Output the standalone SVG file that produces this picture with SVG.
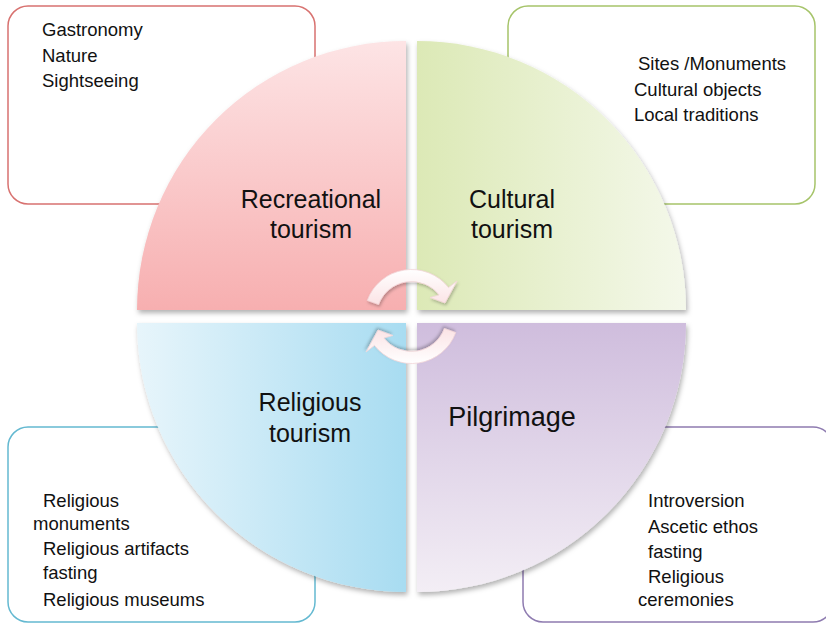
<svg xmlns="http://www.w3.org/2000/svg" width="826" height="624" viewBox="0 0 826 624">
<style>
.box{fill:#fff;stroke-width:1.5}
.t{font-family:"Liberation Sans",Arial,sans-serif;font-size:18.5px;fill:#111}
.lbl{font-family:"Liberation Sans",Arial,sans-serif;font-size:25px;fill:#111;text-anchor:middle}
.q{filter:url(#sh)}
.arr{fill:url(#ga);stroke:#f3d6d8;stroke-width:0.8;filter:url(#sh2)}
</style>
<defs>
<linearGradient id="gtl" x1="0" y1="0" x2="0" y2="1"><stop offset="0" stop-color="#fde4e5"/><stop offset="1" stop-color="#f7afb0"/></linearGradient>
<linearGradient id="gtr" x1="0" y1="0" x2="1" y2="0"><stop offset="0" stop-color="#dce9b6"/><stop offset="1" stop-color="#f4f8ea"/></linearGradient>
<linearGradient id="gbl" x1="0" y1="0" x2="1" y2="0"><stop offset="0" stop-color="#e7f5fb"/><stop offset="1" stop-color="#a8dcf1"/></linearGradient>
<linearGradient id="gbr" x1="0" y1="0" x2="0" y2="1"><stop offset="0" stop-color="#cfbddd"/><stop offset="1" stop-color="#f3eef5"/></linearGradient>
<linearGradient id="ga" x1="0" y1="0" x2="0" y2="1"><stop offset="0" stop-color="#ffffff"/><stop offset="1" stop-color="#fbe3e5"/></linearGradient>
<filter id="sh" x="-10%" y="-10%" width="120%" height="120%"><feDropShadow dx="1.5" dy="3" stdDeviation="2.5" flood-color="#000" flood-opacity="0.3"/></filter>
<filter id="sh2" x="-20%" y="-20%" width="140%" height="140%"><feDropShadow dx="1" dy="2" stdDeviation="1.5" flood-color="#000" flood-opacity="0.25"/></filter>
</defs>
<g id="box-recreational">
<rect class="box" x="8" y="6" width="307" height="198" rx="20" stroke="#d87270"/>
<text class="t" x="42" y="36">Gastronomy</text>
<text class="t" x="42" y="61.5">Nature</text>
<text class="t" x="42" y="87">Sightseeing</text>
</g>
<g id="box-cultural">
<rect class="box" x="508" y="6" width="307" height="198" rx="20" stroke="#a6c46a"/>
<text class="t" x="638" y="70">Sites /Monuments</text>
<text class="t" x="634" y="95.5">Cultural objects</text>
<text class="t" x="634" y="121">Local traditions</text>
</g>
<g id="box-religious">
<rect class="box" x="8" y="427" width="307" height="195" rx="20" stroke="#64b9d1"/>
<text class="t" x="43" y="507">Religious</text>
<text class="t" x="33" y="530">monuments</text>
<text class="t" x="43" y="555">Religious artifacts</text>
<text class="t" x="43" y="579">fasting</text>
<text class="t" x="43" y="606">Religious museums</text>
</g>
<g id="box-pilgrimage">
<rect class="box" x="523" y="427" width="310" height="195" rx="20" stroke="#8e7bb0"/>
<text class="t" x="648" y="507">Introversion</text>
<text class="t" x="648" y="533">Ascetic ethos</text>
<text class="t" x="648" y="558">fasting</text>
<text class="t" x="648" y="583">Religious</text>
<text class="t" x="638" y="606">ceremonies</text>
</g>
<g id="recreational-tourism">
<path class="q" d="M406,310 L137,310 A269,269 0 0 1 406,41 Z" fill="url(#gtl)"/>
<text class="lbl" x="311" y="208">Recreational</text>
<text class="lbl" x="311" y="238">tourism</text>
</g>
<g id="cultural-tourism">
<path class="q" d="M417,310 L417,41 A269,269 0 0 1 686,310 Z" fill="url(#gtr)"/>
<text class="lbl" x="512" y="208">Cultural</text>
<text class="lbl" x="512" y="238">tourism</text>
</g>
<g id="religious-tourism">
<path class="q" d="M406,323 L406,592 A269,269 0 0 1 137,323 Z" fill="url(#gbl)"/>
<text class="lbl" x="310" y="411">Religious</text>
<text class="lbl" x="310" y="442">tourism</text>
</g>
<g id="pilgrimage">
<path class="q" d="M417,323 L686,323 A269,269 0 0 1 417,592 Z" fill="url(#gbr)"/>
<text class="lbl" x="512" y="426" style="font-size:27px">Pilgrimage</text>
</g>
<g id="connectors">
<path class="arr" d="M367.3,300.4 A47,47 0 0 1 448.5,287.6 L457,281 L445,303 L430,297.5 L439.1,295 A35,35 0 0 0 378.6,304.5 Z"/>
<path class="arr" d="M367.3,300.4 A47,47 0 0 1 448.5,287.6 L457,281 L445,303 L430,297.5 L439.1,295 A35,35 0 0 0 378.6,304.5 Z" transform="rotate(180 411.5 316.5)"/>
</g>
</svg>
